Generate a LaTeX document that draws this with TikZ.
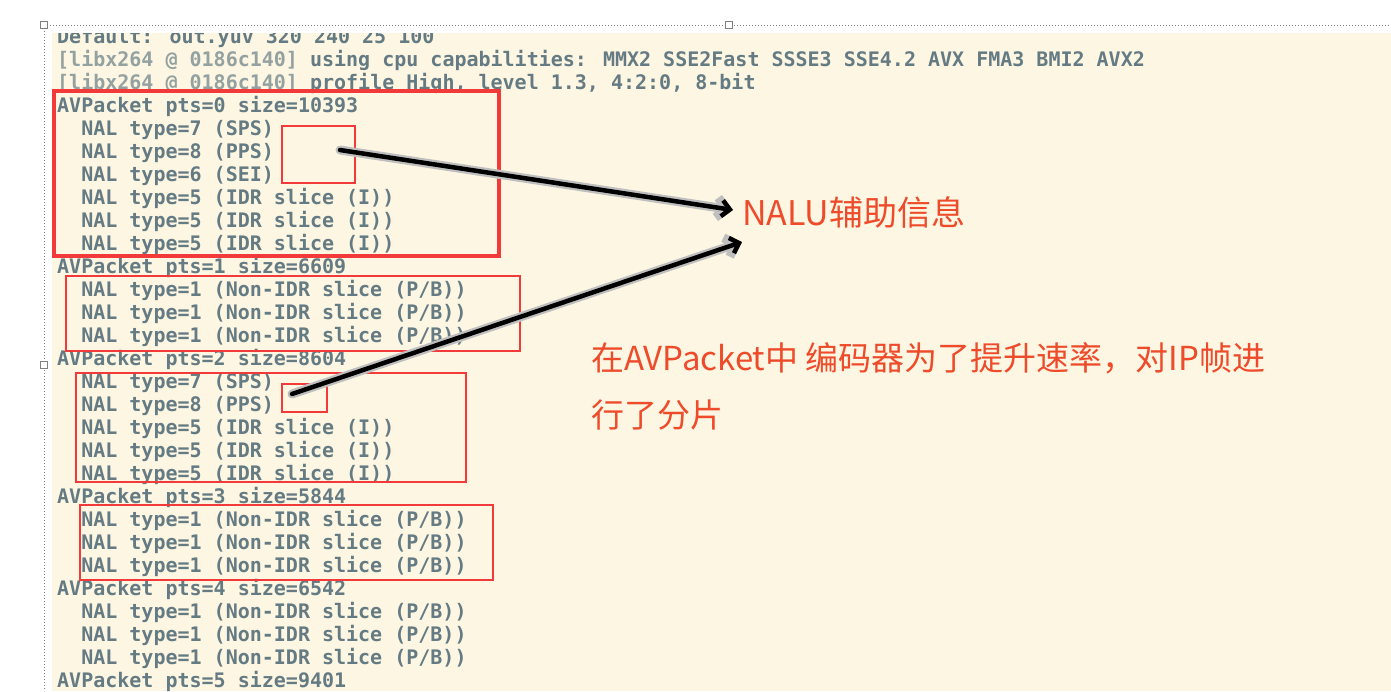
\documentclass[tikz,border=0pt]{standalone}
\usepackage{fontspec}
\setmainfont{DejaVu Sans Mono}
\newfontfamily\cjk{Noto Sans CJK SC}
\newfontfamily\mono{DejaVu Sans Mono}
\usetikzlibrary{arrows.meta}
\definecolor{cream}{HTML}{FDF6E3}
\definecolor{txt}{HTML}{657B83}
\definecolor{dim}{HTML}{93A1A1}
\definecolor{rbox}{HTML}{F23A3A}
\definecolor{note}{HTML}{EE4B2B}
\tikzset{
 ln/.style={anchor=base west,inner sep=0pt,text=txt,font=\mono\bfseries\fontsize{20}{20}\selectfont},
 box/.style={draw=rbox,line width=2pt},
 arr/.style={line width=4.5pt,line cap=round,-{Straight Barb[length=8pt,width=16pt,line width=4.5pt]}},
 halo/.style={line width=9pt,line cap=round,draw=gray!50,-{Straight Barb[length=10pt,width=20pt,line width=9pt]}},
 hd/.style={draw=gray,fill=white,line width=0.6pt,minimum size=7pt,inner sep=0pt},
}
\begin{document}
\begin{tikzpicture}[x=1pt,y=-1pt]
\useasboundingbox (0,0) rectangle (1391,691);
\fill[white] (0,0) rectangle (1391,691);
\fill[cream] (52,33) rectangle (1391,691);
\draw[gray,dotted,line width=1pt] (44,25) -- (1391,25);
\draw[gray,dotted,line width=1pt] (44,25) -- (44,691);
\node[hd] (h1) at (44,25) {};
\node[hd] (h2) at (729,25) {};
\node[hd] (h3) at (44,365) {};
\begin{scope}
\clip (52,33) rectangle (1391,691);
\node[ln] (l0) at (57,43.5) {Default: out.yuv 320 240 25 100};
\end{scope}
\foreach \i/\s in {
3/{AVPacket pts=0 size=10393},
4/{\ \ NAL type=7 (SPS)},
5/{\ \ NAL type=8 (PPS)},
6/{\ \ NAL type=6 (SEI)},
7/{\ \ NAL type=5 (IDR slice (I))},
8/{\ \ NAL type=5 (IDR slice (I))},
9/{\ \ NAL type=5 (IDR slice (I))},
10/{AVPacket pts=1 size=6609},
11/{\ \ NAL type=1 (Non-IDR slice (P/B))},
12/{\ \ NAL type=1 (Non-IDR slice (P/B))},
13/{\ \ NAL type=1 (Non-IDR slice (P/B))},
14/{AVPacket pts=2 size=8604},
15/{\ \ NAL type=7 (SPS)},
16/{\ \ NAL type=8 (PPS)},
17/{\ \ NAL type=5 (IDR slice (I))},
18/{\ \ NAL type=5 (IDR slice (I))},
19/{\ \ NAL type=5 (IDR slice (I))},
20/{AVPacket pts=3 size=5844},
21/{\ \ NAL type=1 (Non-IDR slice (P/B))},
22/{\ \ NAL type=1 (Non-IDR slice (P/B))},
23/{\ \ NAL type=1 (Non-IDR slice (P/B))},
24/{AVPacket pts=4 size=6542},
25/{\ \ NAL type=1 (Non-IDR slice (P/B))},
26/{\ \ NAL type=1 (Non-IDR slice (P/B))},
27/{\ \ NAL type=1 (Non-IDR slice (P/B))},
28/{AVPacket pts=5 size=9401}}
  \node[ln] (l\i) at (57,{44+22.97*\i}) {\s};
\node[ln] (l1) at (57,{44+22.97}) {\textcolor{dim}{[libx264 @ 0186c140]} using cpu capabilities: MMX2 SSE2Fast SSSE3 SSE4.2 AVX FMA3 BMI2 AVX2};
\node[ln] (l2) at (57,{44+2*22.97}) {\textcolor{dim}{[libx264 @ 0186c140]} profile High, level 1.3, 4:2:0, 8-bit};
\draw[draw=rbox,line width=4pt] (54,91) rectangle (499,256);
\draw[box] (282,126) rectangle (355,183);
\draw[box] (66,276) rectangle (520,351);
\draw[box] (76,373) rectangle (466,482);
\draw[box] (282,384) rectangle (327,412);
\draw[box] (80,505) rectangle (493,580);
\node[anchor=west,inner sep=0pt,text=note,font=\cjk\fontsize{34}{34}\selectfont] (nalu) at (742,212) {NALU辅助信息};
\node[anchor=north west,inner sep=0pt,text=note,font=\cjk\fontsize{33}{57}\selectfont,align=left] (desc) at (591,342) {在AVPacket中 编码器为了提升速率，对IP帧进\\行了分片};
\coordinate (a1s) at (340,150);
\coordinate (a1e) at (733,210);
\coordinate (a2s) at (292,394);
\coordinate (a2e) at (742,242);
\draw[halo] (a1s) -- (a1e);
\draw[halo] (a2s) -- (a2e);
\draw[arr] (a1s) -- (a1e);
\draw[arr] (a2s) -- (a2e);
\end{tikzpicture}
\end{document}
